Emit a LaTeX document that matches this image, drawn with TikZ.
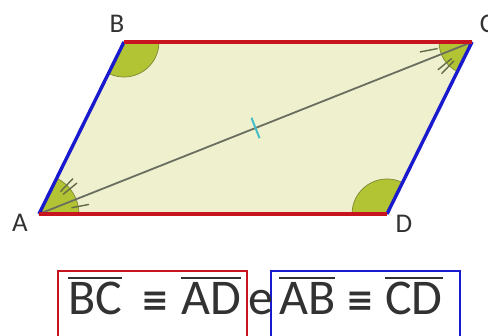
\documentclass[tikz,border=0pt]{standalone}
\usepackage{fontspec}
\setmainfont{Carlito}
\newfontfamily\symfont{DejaVu Sans}
\usetikzlibrary{math}
\definecolor{pfill}{RGB}{238,240,206}
\definecolor{agreen}{RGB}{178,196,52}
\definecolor{aline}{RGB}{125,135,50}
\definecolor{tline}{RGB}{100,108,70}
\definecolor{pred}{RGB}{200,20,30}
\definecolor{pblue}{RGB}{25,25,205}
\definecolor{dgray}{RGB}{105,110,95}
\definecolor{tcyan}{RGB}{70,190,200}
\definecolor{txt}{RGB}{50,50,50}
\newcommand{\seg}[1]{\vbox{\hrule height 1.9pt\kern 4pt\hbox{#1}}}

\begin{document}
\begin{tikzpicture}[x=1pt,y=1pt,
  side/.style={line width=3.4pt},
  angfill/.style={fill=agreen,draw=aline,line width=0.7pt},
  angtick/.style={line width=1.4pt,color=tline},
  lbl/.style={text=txt,font=\fontsize{27}{30}\selectfont,inner sep=0pt},
  eqtext/.style={text=txt,font=\fontsize{50}{60}\selectfont,inner sep=0pt,anchor=base west},
  eqsign/.style={text=txt,font=\symfont\bfseries\fontsize{33}{36}\selectfont,inner sep=0pt},
  eqbox/.style={line width=1.8pt,minimum width=189pt,minimum height=68pt}]

\tikzmath{
\ax = 39; \ay = 122;
\bx = 124; \by = 294;
\dx = 387; \dy = 122;
%C from the other three
\cx = \bx+\dx-\ax;
\cy = \by;
%directions of AB and AC
\aB = atan2(\by-\ay,\bx-\ax);
\aC = atan2(\cy-\ay,\cx-\ax);
%angle radii
\rA = 40;
\rB = 35;
\rC = 33;
}

\useasboundingbox (0,0) rectangle (488,336);

\coordinate (A) at (\ax,\ay);
\coordinate (B) at (\bx,\by);
\coordinate (C) at (\cx,\cy);
\coordinate (D) at (\dx,\dy);

%parallelogram:
\fill[pfill] (A) -- (B) -- (C) -- (D) -- cycle;

%angles:
\filldraw[angfill] (B) -- ++({\aB+180}:\rB) arc ({\aB+180}:360:\rB) -- cycle;
\filldraw[angfill] (D) -- ++(\aB:\rB) arc (\aB:180:\rB) -- cycle;
\filldraw[angfill] (A) -- ++(0:\rA) arc (0:\aB:\rA) -- cycle;
\filldraw[angfill] (C) -- ++(180:\rC) arc (180:{180+\aB}:\rC) -- cycle;

%diagonal:
\draw[dgray, line width=1.8pt] (A) -- (C) coordinate[midway] (M);
\draw[tcyan, line width=2pt] (M) ++({\aC+90}:11) -- ++({\aC-90}:22);

%equal angles
\draw[angtick] (A) ++({\aC/2}:33) -- ++({\aC/2}:18);
\draw[angtick] (C) ++({180+\aC/2}:35) -- ++({180+\aC/2}:18);
\foreach \t in {-3.5,3.5}{
  \draw[angtick] (A) ++({(\aB+\aC)/2+\t}:31) -- ++({(\aB+\aC)/2+\t}:18);
  \draw[angtick] (C) ++({180+(\aB+\aC)/2+\t}:26) -- ++({180+(\aB+\aC)/2+\t}:18);
}

%sides:
\draw[side, pblue] (A) -- (B);
\draw[side, pblue] (D) -- (C);
\draw[side, pred] (A) -- (D);
\draw[side, pred] (B) -- (C);

%vertex labels
\node[lbl] (lA) at (20,113) {A};
\node[lbl] (lB) at (117,312) {B};
\node[lbl] (lC) at (487,312) {C};
\node[lbl] (lD) at (404,112) {D};

%congruences
\node[eqbox, draw=pred] (lbox) at (152.5,31) {};
\node[eqbox, draw=pblue] (rbox) at (365.5,31) {};
\node[eqtext] (bc) at (68,21) {\seg{BC}};
\node[eqsign] (eq1) at (155,34) {≡};
\node[eqtext] (ad) at (181,21) {\seg{AD}};
\node[eqtext] (e) at (248,21) {e};
\node[eqtext] (ab) at (279,21) {\seg{AB}};
\node[eqsign] (eq2) at (360,34) {≡};
\node[eqtext] (cd) at (385,21) {\seg{CD}};

\end{tikzpicture}
\end{document}
